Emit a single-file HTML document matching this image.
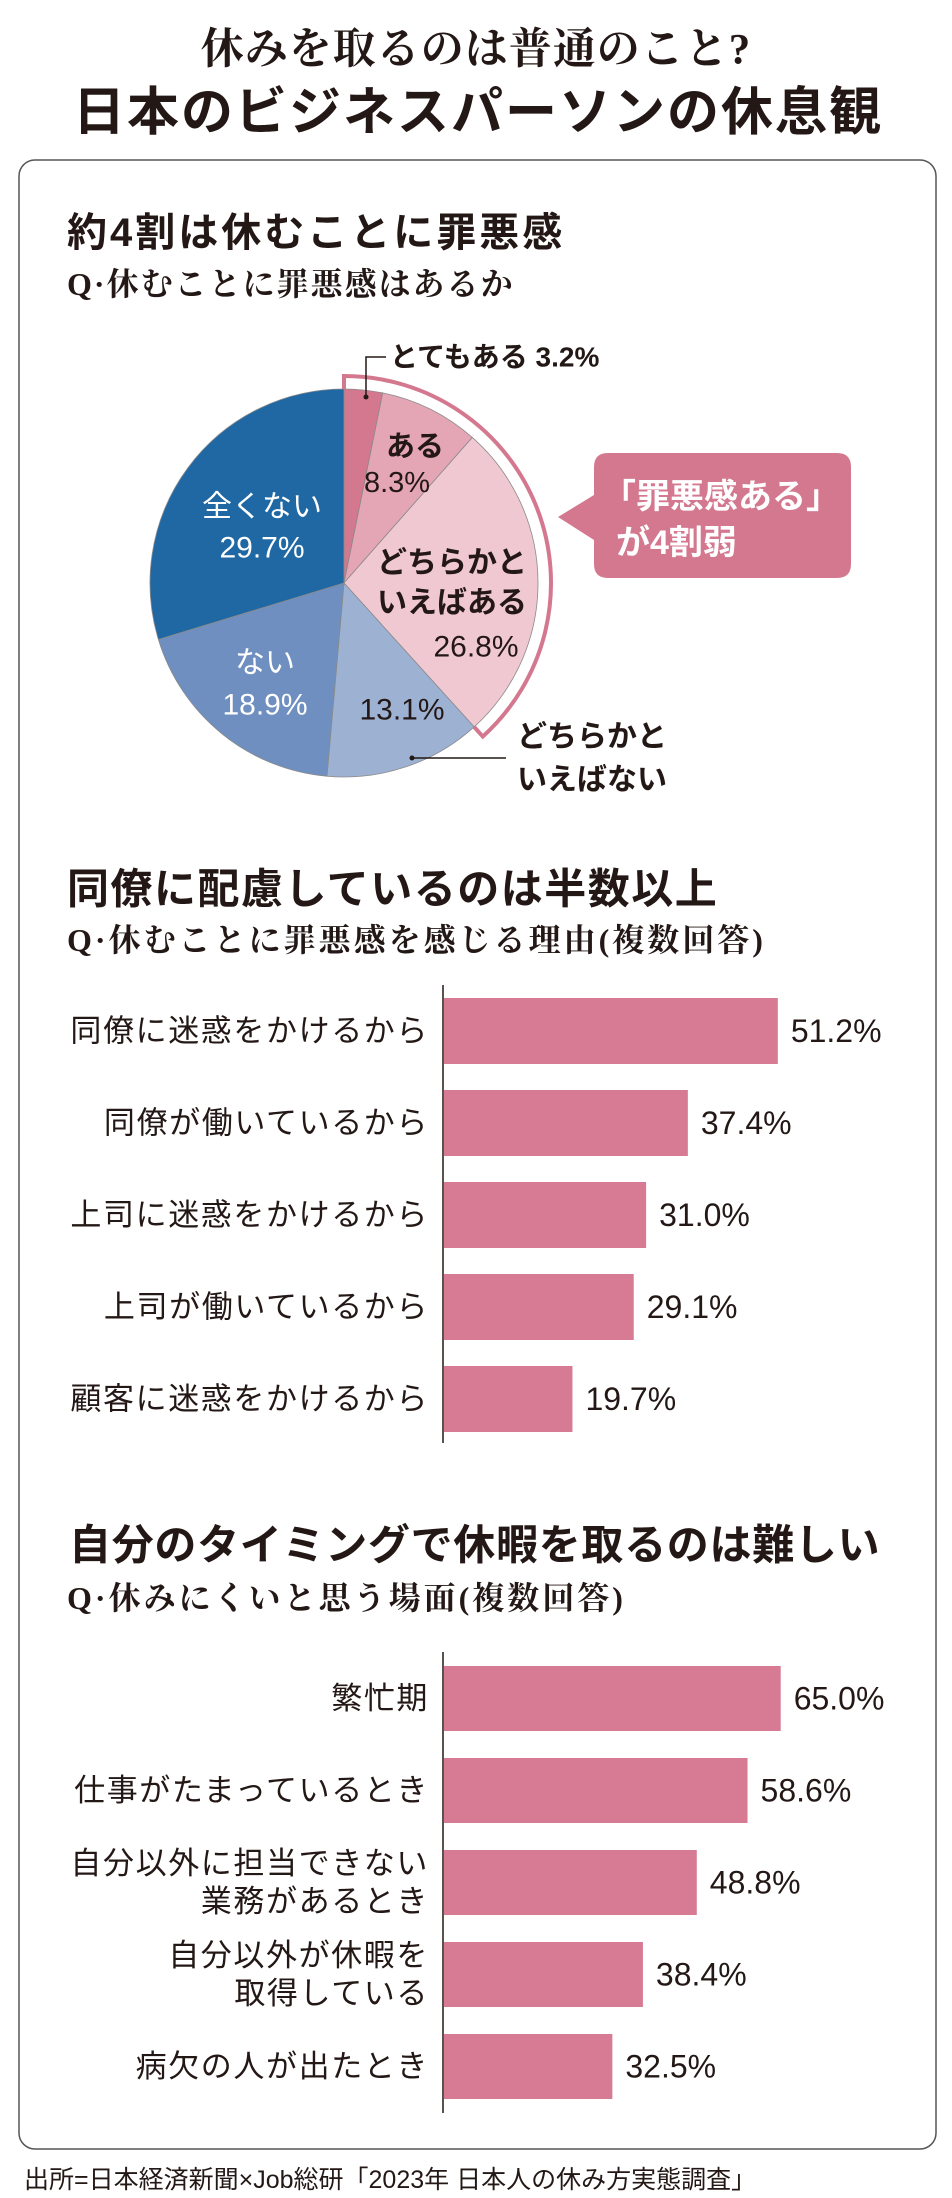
<!DOCTYPE html>
<html lang="ja">
<head>
<meta charset="utf-8">
<style>
html,body{margin:0;padding:0;background:#fff;}
svg{display:block;}
.g{font-family:"Liberation Sans","Noto Sans CJK JP",sans-serif;fill:#231815;}
.m{font-family:"Liberation Serif","Noto Serif CJK SC",serif;fill:#231815;font-weight:bold;}
</style>
</head>
<body>
<svg id="chart" width="952" height="2198" viewBox="0 0 952 2198" xmlns="http://www.w3.org/2000/svg">
  <text class="m" x="476" y="50" text-anchor="middle" dominant-baseline="central" font-size="43" letter-spacing="1">休みを取るのは普通のこと?</text>
  <text class="g" x="478" y="113" text-anchor="middle" dominant-baseline="central" font-size="52" font-weight="bold" letter-spacing="2">日本のビジネスパーソンの休息観</text>
  <rect x="19" y="160" width="917" height="1989" rx="16" fill="#fff" stroke="#555" stroke-width="1.5"/>

  <text class="g" x="67" y="233" dominant-baseline="central" font-size="40" font-weight="bold" letter-spacing="3">約4割は休むことに罪悪感</text>
  <text class="m" x="67" y="284" dominant-baseline="central" font-size="32" letter-spacing="2">Q·休むことに罪悪感はあるか</text>

  <g id="pie"></g>
  <g id="pielabels">
    <polyline points="366,397 366,357 386,357" fill="none" stroke="#231815" stroke-width="1.5"/>
    <circle cx="366" cy="397" r="2.5" fill="#231815"/>
    <text class="g" x="390" y="357" dominant-baseline="central" font-size="28" font-weight="bold">とてもある 3.2%</text>
    <text class="g" x="415" y="447" text-anchor="middle" dominant-baseline="central" font-size="29" font-weight="bold">ある</text>
    <text class="g" x="397" y="483" text-anchor="middle" dominant-baseline="central" font-size="29">8.3%</text>
    <text class="g" x="452" y="563" text-anchor="middle" dominant-baseline="central" font-size="30" font-weight="bold">どちらかと</text>
    <text class="g" x="452" y="603" text-anchor="middle" dominant-baseline="central" font-size="30" font-weight="bold">いえばある</text>
    <text class="g" x="476" y="647" text-anchor="middle" dominant-baseline="central" font-size="30">26.8%</text>
    <text class="g" x="402" y="710" text-anchor="middle" dominant-baseline="central" font-size="30">13.1%</text>
    <line x1="412" y1="758" x2="506" y2="758" stroke="#231815" stroke-width="1.5"/>
    <circle cx="412" cy="758" r="2.5" fill="#231815"/>
    <text class="g" x="517" y="737" dominant-baseline="central" font-size="30" font-weight="bold">どちらかと</text>
    <text class="g" x="517" y="780" dominant-baseline="central" font-size="30" font-weight="bold">いえばない</text>
    <text class="g" x="265" y="663" text-anchor="middle" dominant-baseline="central" font-size="30" style="fill:#fff">ない</text>
    <text class="g" x="265" y="705" text-anchor="middle" dominant-baseline="central" font-size="30" style="fill:#fff">18.9%</text>
    <text class="g" x="262" y="507" text-anchor="middle" dominant-baseline="central" font-size="30" style="fill:#fff">全くない</text>
    <text class="g" x="262" y="548" text-anchor="middle" dominant-baseline="central" font-size="30" style="fill:#fff">29.7%</text>
  </g>
  <g>
    <path d="M608,453 H837 Q851,453 851,467 V564 Q851,578 837,578 H608 Q594,578 594,564 V540 L558,517 L594,495 V467 Q594,453 608,453 Z" fill="#d4788f"/>
    <text class="g" x="602" y="497" dominant-baseline="central" font-size="34" font-weight="bold" style="fill:#fff">「罪悪感ある」</text>
    <text class="g" x="616" y="543" dominant-baseline="central" font-size="34" font-weight="bold" style="fill:#fff">が4割弱</text>
  </g>

  <text class="g" x="67" y="889" dominant-baseline="central" font-size="42" font-weight="bold" letter-spacing="1.5">同僚に配慮しているのは半数以上</text>
  <text class="m" x="67" y="940" dominant-baseline="central" font-size="32" letter-spacing="3">Q·休むことに罪悪感を感じる理由(複数回答)</text>
  <g id="bars1"></g>

  <text class="g" x="69" y="1545" dominant-baseline="central" font-size="42" font-weight="bold" letter-spacing="0.7">自分のタイミングで休暇を取るのは難しい</text>
  <text class="m" x="67" y="1598" dominant-baseline="central" font-size="32" letter-spacing="3">Q·休みにくいと思う場面(複数回答)</text>
  <g id="bars2"></g>

  <text class="g" x="24" y="2180" dominant-baseline="central" font-size="25">出所=日本経済新聞×Job総研「2023年 日本人の休み方実態調査」</text>
</svg>
<script>
const pieCategories = ["とてもある","ある","どちらかといえばある","どちらかといえばない","ない","全くない"];
const pieValues = [3.2, 8.3, 26.8, 13.1, 18.9, 29.7];
const pieColors = ["#d4788f","#e4a5b5","#f0c8d2","#9db1d3","#6e8fbf","#1f68a4"];
const guiltCount = 3;

const reasonCategories = ["同僚に迷惑をかけるから","同僚が働いているから","上司に迷惑をかけるから","上司が働いているから","顧客に迷惑をかけるから"];
const reasonValues = [51.2, 37.4, 31.0, 29.1, 19.7];
const reasonLabels = ["51.2%","37.4%","31.0%","29.1%","19.7%"];

const sceneCategories = ["繁忙期","仕事がたまっているとき","自分以外に担当できない\n業務があるとき","自分以外が休暇を\n取得している","病欠の人が出たとき"];
const sceneValues = [65.0, 58.6, 48.8, 38.4, 32.5];
const sceneLabels = ["65.0%","58.6%","48.8%","38.4%","32.5%"];

const NS = "http://www.w3.org/2000/svg";
function mk(tag, attrs, parent){
  const e = document.createElementNS(NS, tag);
  for (const k in attrs) e.setAttribute(k, attrs[k]);
  parent.appendChild(e);
  return e;
}

(function(){
  const g = document.getElementById("pie");
  const cx = 344, cy = 583, r = 194;
  const total = pieValues.reduce((a,b)=>a+b,0);
  const pt = (frac, rad) => {
    const a = frac * 2 * Math.PI;
    return [cx + rad*Math.sin(a), cy - rad*Math.cos(a)];
  };
  let acc = 0;
  pieValues.forEach((v,i)=>{
    const f0 = acc/total, f1 = (acc+v)/total;
    const p0 = pt(f0, r), p1 = pt(f1, r);
    const large = (f1-f0) > 0.5 ? 1 : 0;
    const p = mk("path", {d:`M${cx},${cy} L${p0[0]},${p0[1]} A${r},${r} 0 ${large} 1 ${p1[0]},${p1[1]} Z`, fill:pieColors[i], stroke:"#8a8a8a", "stroke-width":"0.8"}, g);
    
    
    acc += v;
  });
  let gs = 0; for (let i=0;i<guiltCount;i++) gs += pieValues[i];
  const br = 207, f1 = gs/total;
  const s = pt(0, br), e = pt(f1, br), si = pt(0, br-13), ei = pt(f1, br-13);
  const b = mk("path", {d:`M${si[0]},${si[1]} L${s[0]},${s[1]} A${br},${br} 0 0 1 ${e[0]},${e[1]} L${ei[0]},${ei[1]}`, fill:"none", stroke:"#d4788f", "stroke-width":"4"}, g);
  
  
})();

function barChart(gid, cats, vals, labels, axisX, axisTop, axisBot, firstTop, pitch, barH, pxPer){
  const g = document.getElementById(gid);
  const ax = mk("line", {x1:axisX, y1:axisTop, x2:axisX, y2:axisBot, stroke:"#231815", "stroke-width":"1.5"}, g);
  
  
  vals.forEach((v,i)=>{
    const top = firstTop + i*pitch, w = v*pxPer, mid = top + barH/2;
    const rect = mk("rect", {x:axisX+1, y:top, width:w, height:barH, fill:"#d67b93"}, g);
    
    
    const lines = cats[i].split("\n");
    lines.forEach((ln,j)=>{
      const y = mid + (j - (lines.length-1)/2) * 38;
      const t = mk("text", {x:axisX-14, y:y, "text-anchor":"end", "dominant-baseline":"central", "font-size":"31", "letter-spacing":"1.6", class:"g"}, g);
      t.textContent = ln;
      
      
    });
    const vt = mk("text", {x:axisX+1+w+13, y:mid, "dominant-baseline":"central", "font-size":"32", class:"g"}, g);
    vt.textContent = labels[i];
    
    
  });
}
barChart("bars1", reasonCategories, reasonValues, reasonLabels, 443, 985, 1443, 998, 92, 66, 6.52);
barChart("bars2", sceneCategories, sceneValues, sceneLabels, 443, 1652, 2113, 1666, 92, 65, 5.18);
</script>
</body>
</html>
